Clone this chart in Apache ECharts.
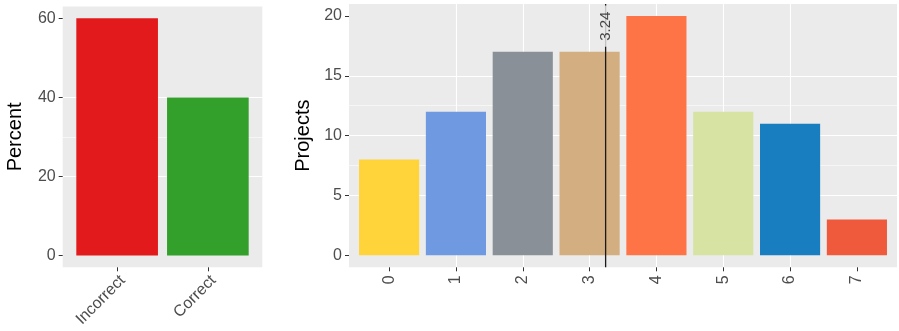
<!DOCTYPE html>
<html>
<head>
<meta charset="utf-8">
<script src="https://cdn.jsdelivr.net/npm/echarts@6/dist/echarts.min.js"></script>
<style>
html,body{margin:0;padding:0;background:#fff;}
#chart{width:899px;height:331px;}
</style>
</head>
<body>
<div id="chart"></div>
<script>
// ---- data ----
const leftCategories = ['Incorrect', 'Correct'];
const leftValues = [60, 40];
const leftColors = ['#E31A1C', '#33A02C'];
const leftTicks = [0, 20, 40, 60];
const leftMinorTicks = [10, 30, 50];

const rightCategories = ['0', '1', '2', '3', '4', '5', '6', '7'];
const rightValues = [8, 12, 17, 17, 20, 12, 11, 3];
const rightColors = ['#FFD43A', '#6F99E0', '#8A9097', '#D2AE80', '#FF7446', '#D6E3A3', '#197EC0', '#F05A3C'];
const rightTicks = [0, 5, 10, 15, 20];
const rightMinorTicks = [2.5, 7.5, 12.5, 17.5];
const meanValue = 3.24;
const meanLabel = '3.24';

// ---- helpers ----
const FONT = "'Liberation Sans', Arial, sans-serif";
const PANEL = '#EBEBEB';
const TXT = '#4D4D4D';
const TICK = '#333333';

function yRange(max) { return [-0.05 * max, max * 1.05]; }
function xRange(n) { return [-0.6, n - 1 + 0.6]; }
function idx(n) { return Array.from({length: n}, (_, i) => i); }

const lY = yRange(leftTicks[leftTicks.length - 1]);
const rY = yRange(rightTicks[rightTicks.length - 1]);
const lX = xRange(leftCategories.length);
const rX = xRange(rightCategories.length);

function xAxisDef(gi, range, cats, rot, vAlign, margin) {
  return {
    type: 'value', gridIndex: gi, min: range[0], max: range[1],
    axisLine: {show: false, onZero: false},
    axisTick: {show: true, customValues: idx(cats.length), length: 4, lineStyle: {color: TICK, width: 1}},
    axisLabel: {show: true, customValues: idx(cats.length), rotate: rot, margin: margin,
      verticalAlign: vAlign,
      fontSize: 16, color: TXT, fontFamily: FONT,
      formatter: v => cats[Math.round(v)]},
    splitLine: {show: true, showMinLine: false, showMaxLine: false, lineStyle: {color: '#FFFFFF', width: 1.1}}
  };
}
function yAxisDef(gi, range, ticks, name, gap) {
  return {
    type: 'value', gridIndex: gi, min: range[0], max: range[1],
    name: name, nameLocation: 'middle', nameGap: gap,
    nameTextStyle: {fontSize: 20, color: '#000', fontFamily: FONT},
    axisLine: {show: false, onZero: false},
    axisTick: {show: true, customValues: ticks, length: 4, lineStyle: {color: TICK, width: 1}},
    axisLabel: {show: true, customValues: ticks, margin: 7, fontSize: 16, color: TXT, fontFamily: FONT},
    splitLine: {show: true, showMinLine: false, showMaxLine: false, lineStyle: {color: '#FFFFFF', width: 1.1}}
  };
}
function yMinorDef(gi, range, ticks) {
  return {
    type: 'value', gridIndex: gi, min: range[0], max: range[1],
    axisLine: {show: false, onZero: false},
    axisTick: {show: false, customValues: ticks},
    axisLabel: {show: false, customValues: ticks},
    splitLine: {show: true, showMinLine: false, showMaxLine: false, lineStyle: {color: '#FFFFFF', width: 0.55}}
  };
}

const chart = echarts.init(document.getElementById('chart'), null, {renderer: 'canvas'});
chart.setOption({
  animation: false,
  backgroundColor: '#FFFFFF',
  textStyle: {fontFamily: FONT},
  grid: [
    {left: 62.7, top: 6.5, width: 199.6, height: 260.8, show: true, backgroundColor: PANEL, borderWidth: 0, containLabel: false},
    {left: 349, top: 4, width: 548, height: 263.3, show: true, backgroundColor: PANEL, borderWidth: 0, containLabel: false}
  ],
  xAxis: [
    xAxisDef(0, lX, leftCategories, 45, 'top', 5),
    xAxisDef(1, rX, rightCategories, 90, 'middle', 8)
  ],
  yAxis: [
    yAxisDef(0, lY, leftTicks, 'Percent', 37),
    yAxisDef(1, rY, rightTicks, 'Projects', 36),
    yMinorDef(0, lY, leftMinorTicks),
    yMinorDef(1, rY, rightMinorTicks)
  ],
  series: [
    {
      type: 'bar', xAxisIndex: 0, yAxisIndex: 0, barWidth: '90%',
      data: leftValues.map((v, i) => ({value: [i, v], itemStyle: {color: leftColors[i]}})),
      z: 3
    },
    {
      type: 'bar', xAxisIndex: 1, yAxisIndex: 1, barWidth: '90%',
      data: rightValues.map((v, i) => ({value: [i, v], itemStyle: {color: rightColors[i]}})),
      z: 3
    },
    {
      type: 'line', xAxisIndex: 1, yAxisIndex: 1, symbol: 'none', silent: true,
      data: [[meanValue, rY[0]], [meanValue, rY[1]]],
      lineStyle: {color: '#1A1A1A', width: 1.3}, z: 4
    },
    {
      type: 'scatter', xAxisIndex: 1, yAxisIndex: 1, symbolSize: 0, silent: true,
      data: [[meanValue, 19.15]],
      label: {show: true, position: 'inside', formatter: meanLabel, rotate: 90,
        fontSize: 15, color: '#1A1A1A', fontFamily: FONT,
        backgroundColor: PANEL, padding: [1, 6, 1, 6]},
      z: 5
    }
  ]
});
</script>
</body>
</html>
